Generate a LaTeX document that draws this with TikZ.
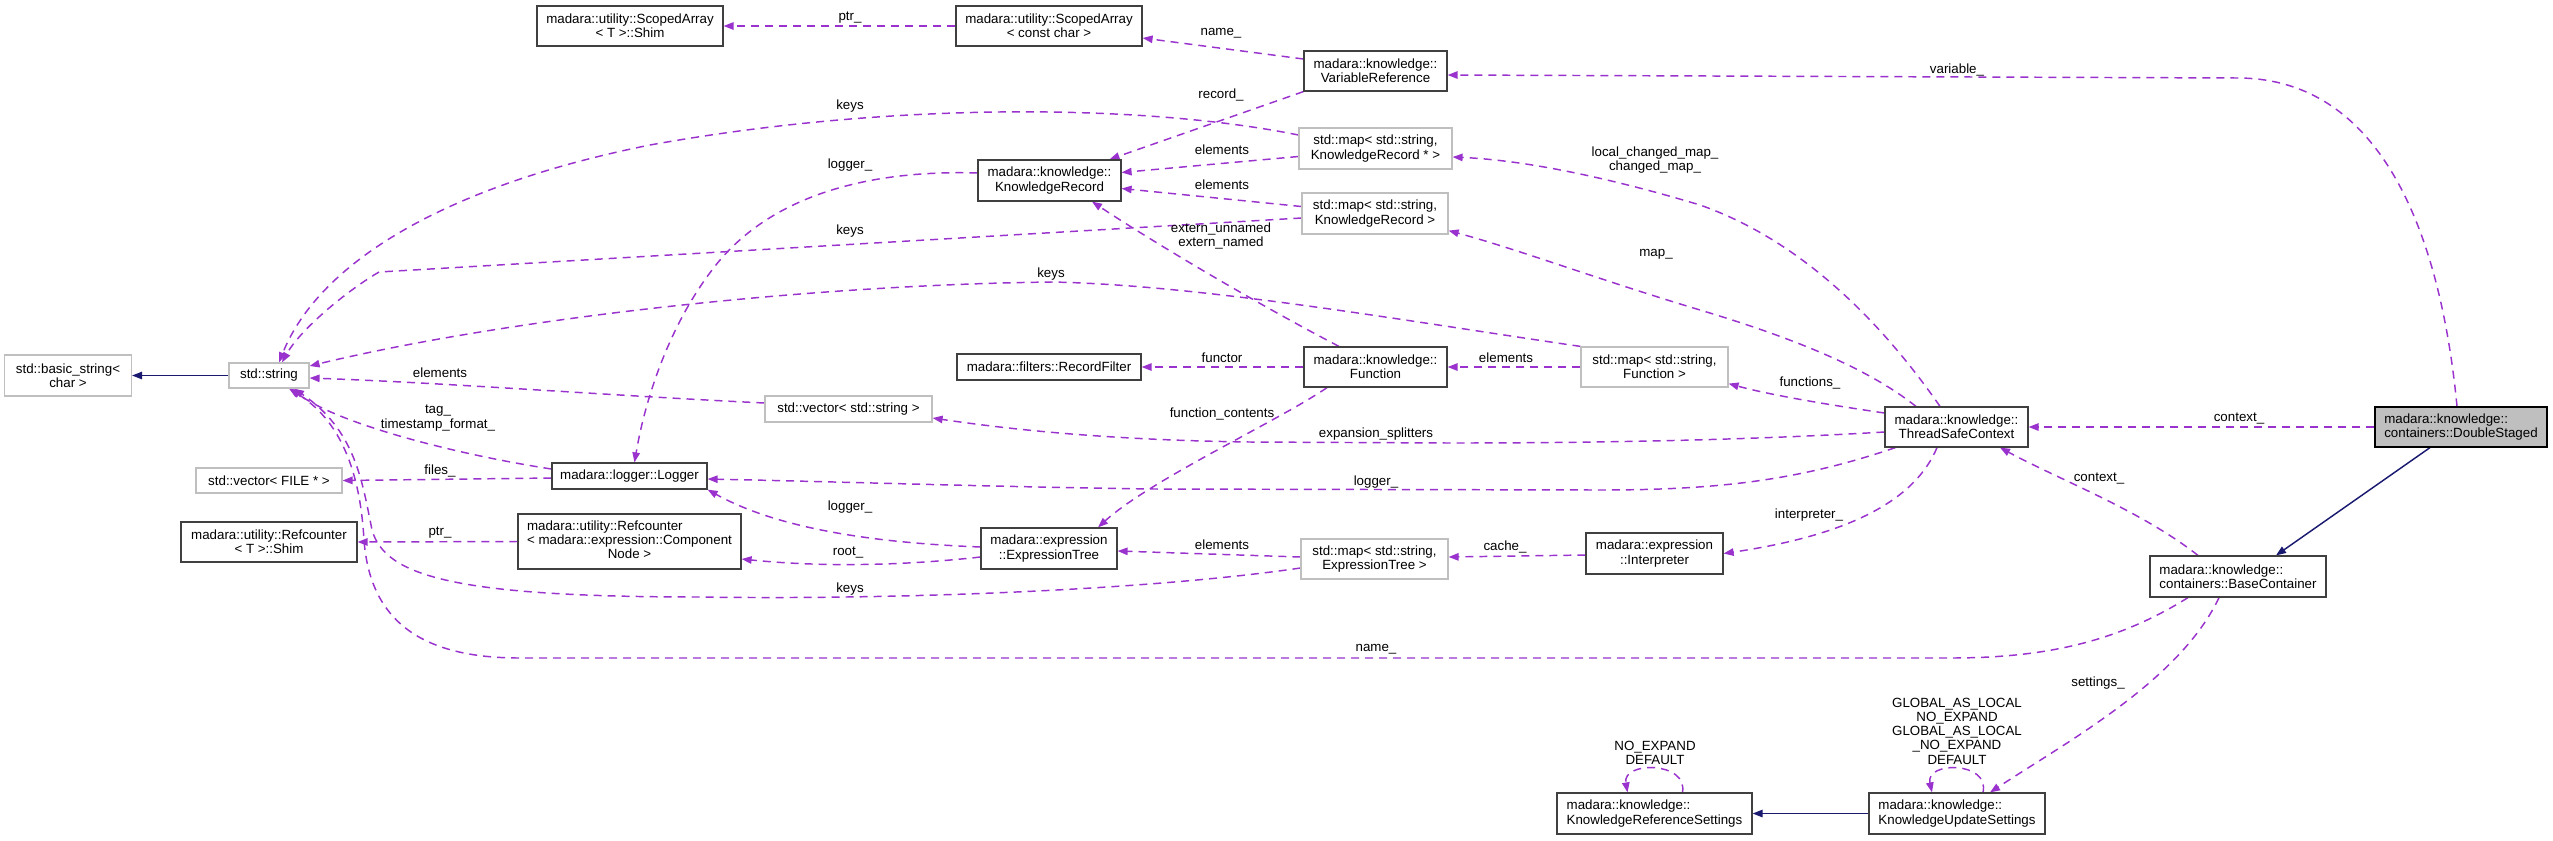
\documentclass[tikz,border=0pt]{standalone}
\usepackage{fontspec}
\setmainfont{Liberation Sans}
\usetikzlibrary{arrows.meta,calc}
\pgfdeclarelayer{background}
\pgfsetlayers{background,main}
\definecolor{purp}{HTML}{9A32CD}
\definecolor{navyb}{HTML}{191970}
\definecolor{gborder}{HTML}{BFBFBF}
\definecolor{dborder}{HTML}{404040}
\newcommand{\dfont}{\fontsize{10}{10.7}\selectfont}
\tikzset{
  box/.style={draw=dborder, line width=0.9pt, fill=white, inner sep=0pt, font=\dfont, align=center},
  gbox/.style={box, draw=gborder},
  sz/.style 2 args={minimum width=#1*0.75pt, minimum height=#2*0.75pt},
  rel/.style={draw=purp, line width=1.1pt, dash pattern=on 6pt off 4.5pt, -{Triangle[length=7.5pt,width=5.6pt]}},
  inh/.style={draw=navyb, line width=1.1pt, -{Triangle[length=7.5pt,width=5.6pt]}},
  lbl/.style={font=\dfont, inner sep=0pt, align=center}
}
\begin{document}
\begin{tikzpicture}[x=0.75pt,y=-0.75pt]
\useasboundingbox (0,0) rectangle (2553,840);
% nodes
\node[box, sz={186}{40}] (shimSA) at (630,26) {madara::utility::ScopedArray\\< T >::Shim};
\node[box, sz={186}{40}] (saConst) at (1049,26) {madara::utility::ScopedArray\\< const char >};
\node[box, sz={143}{40}] (varRef) at (1375.5,71) {madara::knowledge::\\VariableReference};
\node[gbox, sz={153}{41}] (mapKRp) at (1375.5,148.5) {std::map< std::string,\\ KnowledgeRecord * >};
\node[box, sz={143}{41}] (kr) at (1049.5,180.5) {madara::knowledge::\\KnowledgeRecord};
\node[gbox, sz={146}{41}] (mapKR) at (1375,213.5) {std::map< std::string,\\ KnowledgeRecord >};
\node[gbox, sz={127}{41}] (basicStr) at (68,375.5) {std::basic\_string<\\ char >};
\node[gbox, sz={80}{25}] (str) at (269,375.5) {std::string};
\node[box, sz={184}{26}] (recFilter) at (1049,367) {madara::filters::RecordFilter};
\node[box, sz={143}{40}] (func) at (1375.5,367) {madara::knowledge::\\Function};
\node[gbox, sz={147}{40}] (mapFunc) at (1654.5,367) {std::map< std::string,\\ Function >};
\node[gbox, sz={167}{26}] (vecStr) at (848.5,409) {std::vector< std::string >};
\node[box, sz={143}{40}] (tsc) at (1956.5,427) {madara::knowledge::\\ThreadSafeContext};
\node[box, sz={172}{40}, fill=gborder, draw=black, align=left] (ds) at (2461,427) {madara::knowledge::\\containers::DoubleStaged};
\node[gbox, sz={146}{25}] (vecFile) at (269,480.5) {std::vector< FILE * >};
\node[box, sz={155}{26}] (logger) at (629.5,476) {madara::logger::Logger};
\node[box, sz={176}{40}] (rcShim) at (269,542) {madara::utility::Refcounter\\< T >::Shim};
\node[box, sz={223}{55}] (rcComp) at (629.5,541.5) {\begin{tabular}{@{}l@{}}madara::utility::Refcounter\\< madara::expression::Component\\\multicolumn{1}{@{}c@{}}{Node >}\end{tabular}};
\node[box, sz={136}{41}] (et) at (1049,548.5) {madara::expression\\::ExpressionTree};
\node[gbox, sz={147}{40}] (mapET) at (1374.5,559) {std::map< std::string,\\ ExpressionTree >};
\node[box, sz={137}{41}] (interp) at (1654.5,553.5) {madara::expression\\::Interpreter};
\node[box, sz={176}{41}, align=left] (bc) at (2238,576.5) {madara::knowledge::\\containers::BaseContainer};
\node[box, sz={195}{41}, align=left] (krs) at (1654.5,813.5) {madara::knowledge::\\KnowledgeReferenceSettings};
\node[box, sz={176}{41}, align=left] (kus) at (1957,813.5) {madara::knowledge::\\KnowledgeUpdateSettings};
% edges
\begin{pgfonlayer}{background}
\draw[inh] (str.west) -- (basicStr.east);
\draw[inh] ($(ds.south)+(-31,0)$) -- ($(bc.north)+(38,0)$);
\draw[inh] (kus.west) -- (krs.east);
\draw[rel] (saConst.west) -- (shimSA.east);
\draw[rel] ($(varRef.west)+(0,-12)$) -- ($(saConst.east)+(0,12)$);
\draw[rel] ($(ds.north)+(-4,0)$) .. controls (2440,230) and (2380,80) .. (2240,78) -- ($(varRef.east)+(0,4)$);
\draw[rel] (varRef.south west) -- ($(kr.north)+(60,0)$);
\draw[rel] ($(mapKRp.west)+(0,8)$) -- ($(kr.east)+(0,-8)$);
\draw[rel] ($(mapKR.west)+(0,-7)$) -- ($(kr.east)+(0,8)$);
\draw[rel] ($(mapKRp.west)+(0,-13.5)$) .. controls (1150,105) and (900,100) .. (650,145) .. controls (450,185) and (320,260) .. ($(str.north)+(10,0)$);
\draw[rel] ($(mapKR.west)+(0,4.5)$) -- (379,272) .. controls (345,292) and (300,330) .. ($(str.north)+(13,0)$);
\draw[rel] (mapFunc.north west) .. controls (1400,320) and (1200,285) .. (1052,282) .. controls (800,285) and (500,320) .. ($(str.east)+(0,-9.5)$);
\draw[rel] ($(vecStr.west)+(0,-6)$) .. controls (600,395) and (450,383) .. ($(str.east)+(0,2.5)$);
\draw[rel] ($(logger.west)+(0,-7)$) .. controls (460,455) and (340,425) .. ($(str.south)+(22,0)$);
\draw[rel] ($(mapET.west)+(0,9)$) .. controls (1150,590) and (900,600) .. (700,597) .. controls (450,597) and (385,575) .. (372,530) .. controls (362,480) and (355,430) .. ($(str.south)+(25,0)$);
\draw[rel] ($(bc.south)+(-50,0)$) .. controls (2120,640) and (2050,658) .. (1950,658) -- (520,658) .. controls (420,658) and (370,620) .. (364,540) .. controls (360,470) and (340,420) .. ($(str.south)+(20,0)$);
\draw[rel] ($(kr.west)+(0,-7.5)$) .. controls (880,170) and (780,190) .. (720,260) .. controls (670,320) and (645,400) .. ($(logger.north)+(5,0)$);
\draw[rel] ($(tsc.south west)+(11,0)$) .. controls (1800,480) and (1720,490) .. (1600,490) -- (1155,489) .. controls (1000,487) and (850,482) .. ($(logger.east)+(0,3)$);
\draw[rel] ($(logger.west)+(0,2)$) -- (vecFile.east);
\draw[rel] (rcComp.west) -- (rcShim.east);
\draw[rel] ($(et.west)+(0,8.5)$) .. controls (900,566) and (820,567) .. ($(rcComp.east)+(0,17.5)$);
\draw[rel] ($(et.west)+(0,-1.5)$) .. controls (880,543) and (780,530) .. (logger.south east);
\draw[rel] ($(func.south)+(-48.5,0)$) .. controls (1280,420) and (1150,480) .. ($(et.north)+(49,0)$);
\draw[rel] ($(func.north)+(-36.5,0)$) .. controls (1250,300) and (1150,240) .. ($(kr.south)+(42.5,0)$);
\draw[rel] (func.west) -- (recFilter.east);
\draw[rel] (mapFunc.west) -- (func.east);
\draw[rel] ($(tsc.west)+(0,5)$) .. controls (1750,440) and (1600,443) .. (1450,443) -- (1250,442) .. controls (1100,440) and (1000,428) .. ($(vecStr.east)+(0,9)$);
\draw[rel] ($(tsc.west)+(0,-14)$) .. controls (1830,405) and (1770,395) .. ($(mapFunc.south east)+(0,-4)$);
\draw[rel] ($(tsc.north)+(-40.5,0)$) .. controls (1870,370) and (1800,340) .. (1700,310) .. controls (1600,280) and (1520,250) .. ($(mapKR.south east)+(0,-4)$);
\draw[rel] ($(tsc.north)+(-16.5,0)$) .. controls (1880,320) and (1800,240) .. (1700,205) .. controls (1600,175) and (1520,160) .. ($(mapKRp.east)+(0,8.5)$);
\draw[rel] ($(tsc.south)+(-19.5,0)$) .. controls (1915,500) and (1850,535) .. (interp.east);
\draw[rel] (ds.west) -- (tsc.east);
\draw[rel] ($(bc.north)+(-40,0)$) .. controls (2140,510) and (2060,480) .. ($(tsc.south)+(43.5,0)$);
\draw[rel] ($(interp.west)+(0,1.5)$) -- ($(mapET.east)+(0,-2)$);
\draw[rel] ($(mapET.west)+(0,-2)$) -- ($(et.east)+(0,2.5)$);
\draw[rel] ($(bc.south)+(-19,0)$) .. controls (2180,680) and (2070,740) .. ($(kus.north)+(33,0)$);
\draw[rel] ($(kus.north)+(26,0)$) .. controls (1990,761) and (1925,761) .. ($(kus.north)+(-25,0)$);
\draw[rel] ($(krs.north)+(28,0)$) .. controls (1688,761) and (1622,761) .. ($(krs.north)+(-27,0)$);
\end{pgfonlayer}
% labels
\node[lbl] (l1) at (850,18) {ptr\_};
\node[lbl] (l2) at (1221,33) {name\_};
\node[lbl] (l3) at (1957,70) {variable\_};
\node[lbl] (l4) at (1221,95) {record\_};
\node[lbl] (l5) at (850,106) {keys};
\node[lbl] (l6) at (1222,150) {elements};
\node[lbl] (l7) at (1655,160) {local\_changed\_map\_\\changed\_map\_};
\node[lbl] (l8) at (850,165) {logger\_};
\node[lbl] (l9) at (1222,185) {elements};
\node[lbl] (l10) at (1221,236) {extern\_unnamed\\extern\_named};
\node[lbl] (l11) at (850,231) {keys};
\node[lbl] (l12) at (1656,254) {map\_};
\node[lbl] (l13) at (1051,274) {keys};
\node[lbl] (l14) at (1222,358) {functor};
\node[lbl] (l15) at (1506,358) {elements};
\node[lbl] (l16) at (440,373) {elements};
\node[lbl] (l17) at (1810,383) {functions\_};
\node[lbl] (l18) at (438,418) {tag\_\\timestamp\_format\_};
\node[lbl] (l19) at (1222,414) {function\_contents};
\node[lbl] (l20) at (1376,434) {expansion\_splitters};
\node[lbl] (l21) at (440,471) {files\_};
\node[lbl] (l22) at (2239,419) {context\_};
\node[lbl] (l23) at (2099,479) {context\_};
\node[lbl] (l24) at (1376,482) {logger\_};
\node[lbl] (l25) at (850,507) {logger\_};
\node[lbl] (l26) at (1809,515) {interpreter\_};
\node[lbl] (l27) at (440,533) {ptr\_};
\node[lbl] (l28) at (1222,545) {elements};
\node[lbl] (l29) at (1505,547) {cache\_};
\node[lbl] (l30) at (848,553) {root\_};
\node[lbl] (l31) at (850,589) {keys};
\node[lbl] (l32) at (1376,649) {name\_};
\node[lbl] (l33) at (2098,683) {settings\_};
\node[lbl] (l34) at (1957,731) {GLOBAL\_AS\_LOCAL\\NO\_EXPAND\\GLOBAL\_AS\_LOCAL\\\_NO\_EXPAND\\DEFAULT};
\node[lbl] (l35) at (1655,753) {NO\_EXPAND\\DEFAULT};
\end{tikzpicture}
\end{document}
